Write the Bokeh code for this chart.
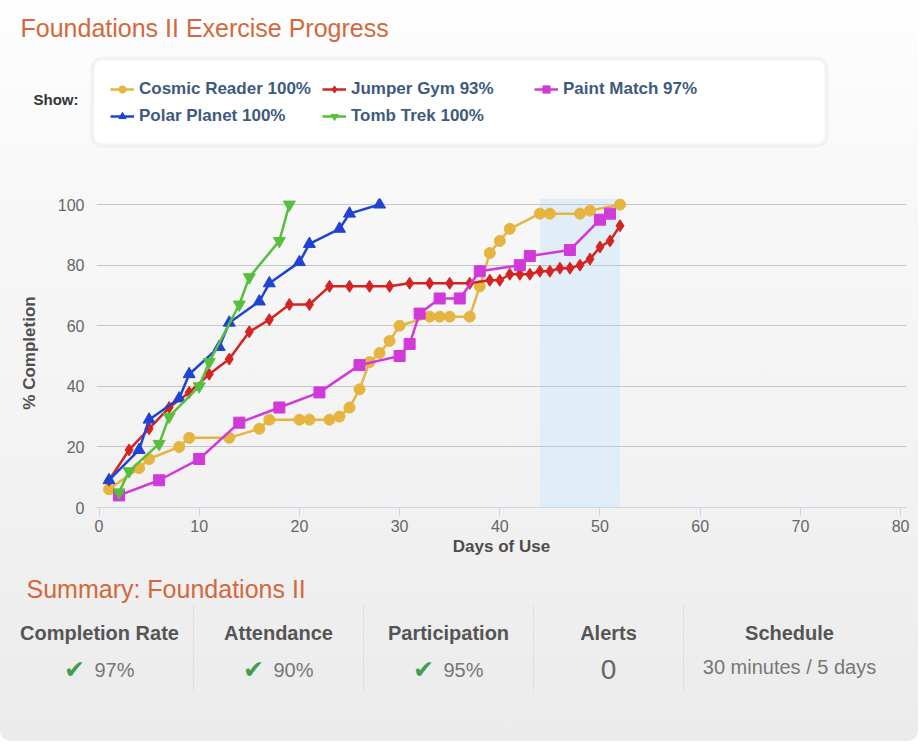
from bokeh.plotting import figure
from bokeh.layouts import column
from bokeh.models import (Range1d, FixedTicker, Label, BoxAnnotation, Legend,
                          LegendItem, Arrow)
from bokeh.embed import file_html
from bokeh.resources import INLINE

# ---------------- data ----------------
cosmic_x = [1, 4, 5, 8, 9, 13, 16, 17, 20, 21, 23, 24, 25, 26, 27, 28, 29, 30,
            33, 34, 35, 37, 38, 39, 40, 41, 44, 45, 48, 49, 52]
cosmic_y = [6, 13, 16, 20, 23, 23, 26, 29, 29, 29, 29, 30, 33, 39, 48, 51, 55, 60,
            63, 63, 63, 63, 73, 84, 88, 92, 97, 97, 97, 98, 100]

jumper_x = [1, 3, 5, 7, 9, 11, 13, 15, 17, 19, 21, 23, 25, 27, 29, 31, 33, 35, 37,
            39, 40, 41, 42, 43, 44, 45, 46, 47, 48, 49, 50, 51, 52]
jumper_y = [9, 19, 26, 33, 38, 44, 49, 58, 62, 67, 67, 73, 73, 73, 73, 74, 74, 74, 74,
            75, 75, 77, 77, 77, 78, 78, 79, 79, 80, 82, 86, 88, 93]

paint_x = [2, 6, 10, 14, 18, 22, 26, 30, 31, 32, 34, 36, 38, 42, 43, 47, 50, 51]
paint_y = [4, 9, 16, 28, 33, 38, 47, 50, 54, 64, 69, 69, 78, 80, 83, 85, 95, 97]

polar_x = [1, 4, 5, 8, 9, 12, 13, 16, 17, 20, 21, 24, 25, 28]
polar_y = [9, 19, 29, 36, 44, 53, 61, 68, 74, 81, 87, 92, 97, 100]

tomb_x = [2, 3, 6, 7, 10, 11, 14, 15, 18, 19]
tomb_y = [5, 12, 21, 30, 40, 48, 67, 76, 88, 100]

series_names = ["Cosmic Reader 100%", "Jumper Gym 93%", "Paint Match 97%",
                "Polar Planet 100%", "Tomb Trek 100%"]
x_ticks = [0, 10, 20, 30, 40, 50, 60, 70, 80]
y_ticks = [0, 20, 40, 60, 80, 100]
band_start, band_end = 44, 52

summary_headers = ["Completion Rate", "Attendance", "Participation", "Alerts", "Schedule"]
summary_values = ["97%", "90%", "95%", "0", "30 minutes / 5 days"]

# ---------------- layout constants (page pixels) ----------------
W = 918
TOP_H = 150           # header strip: page y 0..150
CH_Y0, CH_Y1 = 150, 575   # chart strip
BOT_Y1 = 741          # summary strip: 575..741
FL, FR, FT, FB = 96, 906, 198, 507   # plot frame in page pixels
ORANGE = "#d2693c"
FONT = "Liberation Sans"

colors = ["#e5b53f", "#d42323", "#cf3ad8", "#1f43d2", "#56bf3c"]
markers = ["circle", "diamond", "square", "triangle", "inverted_triangle"]
sizes = [11, 12, 11, 12, 12]
xs_all = [cosmic_x, jumper_x, paint_x, polar_x, tomb_x]
ys_all = [cosmic_y, jumper_y, paint_y, polar_y, tomb_y]


def blank_fig(h, y0):
    f = figure(width=W, height=h, output_backend="svg", toolbar_location=None,
               x_range=Range1d(0, W), y_range=Range1d(y0 + h, y0),
               x_axis_location=None, y_axis_location=None,
               min_border=0, min_border_left=0, min_border_right=0,
               min_border_top=0, min_border_bottom=0, frame_align=False)
    f.title.visible = False
    f.grid.visible = False
    f.outline_line_color = None
    f.background_fill_alpha = 0
    f.border_fill_alpha = 0
    return f


def txt(f, x, y, text, size, color, bold=False, align="left", font=FONT):
    f.add_layout(Label(x=x, y=y, text=text, text_font=font,
                       text_font_size=f"{size}px", text_color=color,
                       text_font_style="bold" if bold else "normal",
                       text_align=align, text_baseline="middle"))


# ---------------- header: title + legend ----------------
top = blank_fig(TOP_H, 0)
# keep the legend keys' data far outside this strip's visible range
top.extra_x_ranges = {"keys": Range1d(1000, 2000)}
txt(top, 20, 27, "Foundations II Exercise Progress", 25, ORANGE)
txt(top, 33, 99, "Show:", 15, "#333333", bold=True)
top.add_layout(BoxAnnotation(left=92, right=826, top=58, bottom=145,
                             fill_color="white", fill_alpha=1.0,
                             line_color="#dcdcdc", line_width=4, border_radius=10))

# ---------------- chart ----------------
p = figure(width=W, height=CH_Y1 - CH_Y0, output_backend="svg", toolbar_location=None,
           x_range=Range1d(-0.25, 80.59), y_range=Range1d(0, 102),
           min_border_left=FL, min_border_right=W - FR,
           min_border_top=FT - CH_Y0, min_border_bottom=CH_Y1 - FB,
           frame_align=False)
p.title.visible = False
p.background_fill_alpha = 0
p.border_fill_alpha = 0
p.outline_line_color = None

xa = p.xaxis[0]
xa.ticker = FixedTicker(ticks=x_ticks)
xa.axis_line_color = "#ccd6eb"
xa.major_tick_line_color = "#ccd6eb"
xa.major_tick_out = 9
xa.major_tick_in = 0
xa.minor_tick_line_color = None
xa.major_label_text_font = FONT
xa.major_label_text_font_size = "16px"
xa.major_label_text_color = "#666666"
xa.major_label_standoff = 3
xa.axis_label = "Days of Use"
xa.axis_label_text_font = FONT
xa.axis_label_text_font_size = "17px"
xa.axis_label_text_font_style = "bold"
xa.axis_label_text_color = "#4d4d4d"
xa.axis_label_standoff = 2

ya = p.yaxis[0]
ya.ticker = FixedTicker(ticks=y_ticks)
ya.axis_line_color = None
ya.major_tick_line_color = None
ya.minor_tick_line_color = None
ya.major_label_text_font = FONT
ya.major_label_text_font_size = "16px"
ya.major_label_text_color = "#666666"
ya.major_label_standoff = 6
ya.axis_label = "% Completion"
ya.axis_label_text_font = FONT
ya.axis_label_text_font_size = "17px"
ya.axis_label_text_font_style = "bold"
ya.axis_label_text_color = "#4d4d4d"
ya.axis_label_standoff = 16

p.xgrid.visible = False
p.ygrid.ticker = FixedTicker(ticks=y_ticks)
p.ygrid.grid_line_color = "#c6c6c6"

p.add_layout(BoxAnnotation(left=band_start, right=band_end, fill_color="#e1eef7",
                           fill_alpha=1.0, line_color=None, level="image"))

items = []
for name, xs, ys, c, m, s in zip(series_names, xs_all, ys_all, colors, markers, sizes):
    p.line(xs, ys, line_color=c, line_width=2.5)
    p.scatter(xs, ys, marker=m, size=s, fill_color=c, line_color=c)
    # legend keys for the header strip (same series, drawn out of view)
    kl = top.line(xs, ys, line_color=c, line_width=2.5, x_range_name="keys")
    ks = top.scatter(xs, ys, marker=m, size=s - 1, fill_color=c, line_color=c,
                     x_range_name="keys")
    items.append(LegendItem(label=name, renderers=[kl, ks]))

legend = Legend(items=items, location=(110, TOP_H - 126), orientation="horizontal",
                ncols=3, border_line_color=None, background_fill_alpha=0,
                padding=0, margin=0, spacing=7, glyph_width=24, glyph_height=18,
                label_height=18, label_width=176, label_standoff=5,
                label_text_font=FONT, label_text_font_size="17px",
                label_text_font_style="bold", label_text_color="#3e5b7e")
top.add_layout(legend, "center")

# ---------------- summary ----------------
bot = blank_fig(BOT_Y1 - CH_Y1, CH_Y1)
txt(bot, 26, 588, "Summary: Foundations II", 25, ORANGE)
head_x = [99, 278, 448, 608, 789]
for hx, h in zip(head_x, summary_headers):
    txt(bot, hx, 632, h, 20, "#555555", bold=True, align="center")
check_x = [74, 253, 423]
for cx, v in zip(check_x, summary_values[:3]):
    txt(bot, cx, 669, "\u2714", 25, "#3f9f4d", align="center", font="DejaVu Sans")
    txt(bot, cx + 20, 669, v, 20, "#777777")
txt(bot, 608, 669, summary_values[3], 28, "#666666", align="center")
txt(bot, 789, 666, summary_values[4], 20, "#777777", align="center")
for sx in [193, 363, 533, 683]:
    bot.add_layout(Arrow(end=None, x_start=sx, y_start=605, x_end=sx, y_end=690,
                         line_color="#c4c4c4", line_width=1, line_dash="1 2"))

page = column(top, p, bot, spacing=0,
              styles={"background": "linear-gradient(#fefefe 0%, #f8f8f8 25%, #f2f2f2 65%, #ebebeb 100%)",
                      "border-radius": "0 0 10px 10px"})

open("out.html", "w").write(file_html(page, INLINE))
